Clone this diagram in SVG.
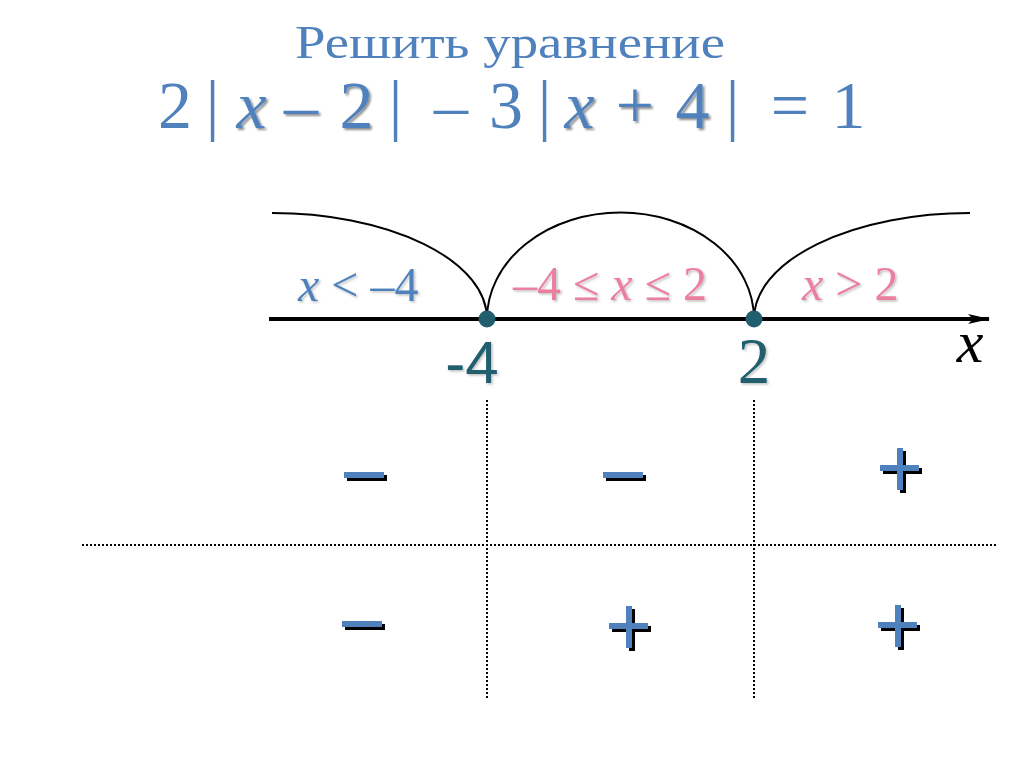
<svg xmlns="http://www.w3.org/2000/svg" width="1024" height="767" viewBox="0 0 1024 767">
<defs>
<style>
.serif{font-family:"Liberation Serif","DejaVu Serif",serif}
.sans{font-family:"Liberation Sans","DejaVu Sans",sans-serif}
.blue{fill:#4f81bd}
.pink{fill:#ea7fa0}
.teal{fill:#215f6e}
.eq{font-size:68px;text-anchor:middle}
.dot{stroke:#000;stroke-width:2;stroke-dasharray:2 2;fill:none}
.arc{stroke:#000;stroke-width:2;fill:none}
</style>
<filter id="sh" x="-20%" y="-20%" width="150%" height="150%">
<feDropShadow dx="2" dy="2" stdDeviation="1" flood-color="#000" flood-opacity="0.45"/>
</filter>
<filter id="soft" x="-20%" y="-20%" width="150%" height="150%">
<feDropShadow dx="1.5" dy="1.5" stdDeviation="1" flood-color="#000" flood-opacity="0.25"/>
</filter>
<marker id="arr" markerWidth="22" markerHeight="12" refX="21" refY="6" orient="auto" markerUnits="userSpaceOnUse">
<path d="M0,1 L22,6 L0,11 L5,6 Z" fill="#000"/>
</marker>
<g id="minus"><rect x="3" y="3" width="40" height="6" fill="#000"/><rect x="0" y="0" width="40" height="6" fill="#4f81bd"/></g>
<g id="plus"><rect x="3" y="20" width="39" height="6" fill="#000"/><rect x="20" y="3" width="6" height="42" fill="#000"/><rect x="0" y="17" width="39" height="6" fill="#4f81bd"/><rect x="17" y="0" width="6" height="42" fill="#4f81bd"/></g>
</defs>
<rect width="1024" height="767" fill="#fff"/>

<g id="title">
<text class="serif blue" x="295" y="58" font-size="47" textLength="430" lengthAdjust="spacingAndGlyphs">Решить уравнение</text>
</g>

<g id="equation" class="serif blue eq">
<text x="175" y="128">2</text>
<text x="212.5" y="128">|</text>
<text x="251.5" y="128" font-style="italic" filter="url(#sh)">x</text>
<text x="301" y="128" filter="url(#sh)">–</text>
<text x="356.5" y="128" filter="url(#sh)">2</text>
<text x="395.5" y="128">|</text>
<text x="451" y="128">–</text>
<text x="506" y="128">3</text>
<text x="544.5" y="128">|</text>
<text x="579.5" y="128" font-style="italic" filter="url(#sh)">x</text>
<text x="635" y="128" filter="url(#sh)">+</text>
<text x="692.5" y="128" filter="url(#sh)">4</text>
<text x="732.5" y="128">|</text>
<text x="790" y="128">=</text>
<text x="848.5" y="128">1</text>
</g>

<g id="connectors">
<path class="arc" d="M272,213 A215,106 0 0 1 487,319"/>
<path class="arc" d="M487,319 A133,106 0 0 1 754,319"/>
<path class="arc" d="M754,319 A216,106 0 0 1 970,213"/>
<line x1="269" y1="319" x2="989" y2="319" stroke="#000" stroke-width="4" marker-end="url(#arr)"/>
<line class="dot" x1="487" y1="400" x2="487" y2="700"/>
<line class="dot" x1="754" y1="400" x2="754" y2="700"/>
<line class="dot" x1="82" y1="545" x2="998" y2="545"/>
</g>

<g id="point-minus4">
<circle cx="487" cy="319" r="8.5" fill="#215f6e"/>
<text class="sans teal" x="472" y="383" font-size="60" text-anchor="middle" filter="url(#soft)">-4</text>
</g>
<g id="point-2">
<circle cx="754" cy="319" r="8.5" fill="#215f6e"/>
<text class="serif teal" x="754" y="383" font-size="65" text-anchor="middle" filter="url(#soft)">2</text>
</g>
<g id="axis-label">
<text class="serif" x="970" y="362" font-size="60" font-style="italic" text-anchor="middle">x</text>
</g>

<g id="interval-labels" class="serif" font-size="48" filter="url(#soft)">
<text class="blue" x="298" y="301"><tspan font-style="italic">x</tspan> &lt; –4</text>
<text class="pink" x="513" y="300">–4 ≤ <tspan font-style="italic">x</tspan> ≤ 2</text>
<text class="pink" x="802" y="300"><tspan font-style="italic">x</tspan> &gt; 2</text>
</g>

<g id="signs">
<use href="#minus" x="344" y="472"/>
<use href="#minus" x="603" y="472"/>
<use href="#plus" x="880" y="448"/>
<use href="#minus" x="342" y="621"/>
<use href="#plus" x="609" y="606"/>
<use href="#plus" x="878" y="605"/>
</g>
</svg>
